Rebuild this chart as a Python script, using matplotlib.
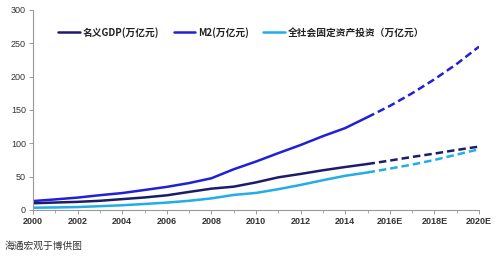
import matplotlib
matplotlib.use('Agg')

import matplotlib.pyplot as plt
from matplotlib.ticker import MultipleLocator

plt.rcParams['font.family'] = ['Noto Sans CJK SC', 'DejaVu Sans']

# ----------------------------
# data (万亿元)
# ----------------------------
years_hist = [2000, 2001, 2002, 2003, 2004, 2005, 2006, 2007,
              2008, 2009, 2010, 2011, 2012, 2013, 2014, 2015]
gdp_hist = [10.0, 11.1, 12.1, 13.7, 16.2, 18.7, 21.9, 27.0,
            31.9, 34.9, 41.3, 48.9, 54.0, 59.5, 64.4, 68.9]
m2_hist = [13.3, 15.8, 18.5, 22.1, 25.3, 29.9, 34.6, 40.3,
           47.5, 61.0, 72.6, 85.2, 97.4, 110.7, 122.8, 139.2]
fai_hist = [3.3, 3.7, 4.3, 5.6, 7.0, 8.9, 11.0, 13.7,
            17.3, 22.5, 25.5, 31.1, 37.5, 44.6, 51.2, 56.2]

years_fc = [2015, 2016, 2017, 2018, 2019, 2020]
gdp_fc = [68.9, 74.0, 79.5, 84.5, 90.0, 95.0]
m2_fc = [139.2, 156.0, 175.0, 196.0, 219.0, 245.0]
fai_fc = [56.2, 62.0, 68.0, 75.0, 83.0, 91.0]

xtick_pos = [2000, 2002, 2004, 2006, 2008, 2010, 2012, 2014, 2016, 2018, 2020]
xtick_labels = ["2000", "2002", "2004", "2006", "2008", "2010", "2012",
                "2014", "2016E", "2018E", "2020E"]
yticks = [0, 50, 100, 150, 200, 250, 300]

labels = ["名义GDP(万亿元)", "M2(万亿元)", "全社会固定资产投资（万亿元）"]
colors = ["#1c1c6b", "#2020d8", "#22ade6"]

# ----------------------------
# plot
# ----------------------------
fig = plt.figure(figsize=(5.0, 2.56), dpi=100)
ax = fig.add_axes([0.066, 0.180, 0.892, 0.781])

series = [(gdp_hist, gdp_fc), (m2_hist, m2_fc), (fai_hist, fai_fc)]
for (h, f), lab, c in zip(series, labels, colors):
    ax.plot(years_hist, h, color=c, lw=1.8, label=lab, solid_capstyle='round')
    ax.plot(years_fc, f, color=c, lw=1.8, ls=(0, (3, 1.6)))

ax.set_xlim(2000, 2020)
ax.set_ylim(0, 300)
ax.set_xticks(xtick_pos)
ax.set_xticklabels(xtick_labels)
ax.xaxis.set_minor_locator(MultipleLocator(1))
ax.set_yticks(yticks)

for s in ["top", "right"]:
    ax.spines[s].set_visible(False)
for s in ["left", "bottom"]:
    ax.spines[s].set_color("#999999")
    ax.spines[s].set_linewidth(0.8)

ax.tick_params(axis='both', which='major', labelsize=6.5, colors="#999999",
               labelcolor="#333333", length=3, width=0.7, pad=2)
ax.tick_params(axis='x', which='minor', length=2, width=0.6, colors="#999999")
for t in ax.get_xticklabels() + ax.get_yticklabels():
    t.set_family(['Liberation Sans', 'DejaVu Sans'])
for t in ax.get_xticklabels():
    t.set_fontweight('bold')

leg = ax.legend(loc="upper left", bbox_to_anchor=(0.048, 0.935), ncol=3,
                frameon=False, fontsize=7, handlelength=2.2,
                handletextpad=0.3, columnspacing=1.5, borderaxespad=0)
for t in leg.get_texts():
    t.set_color("#222222")
    t.set_fontweight('bold')

fig.text(0.01, 0.02, "海通宏观于博供图", fontsize=7, color="#333333",
         ha="left", va="bottom")

plt.savefig("out.png", dpi=100)
